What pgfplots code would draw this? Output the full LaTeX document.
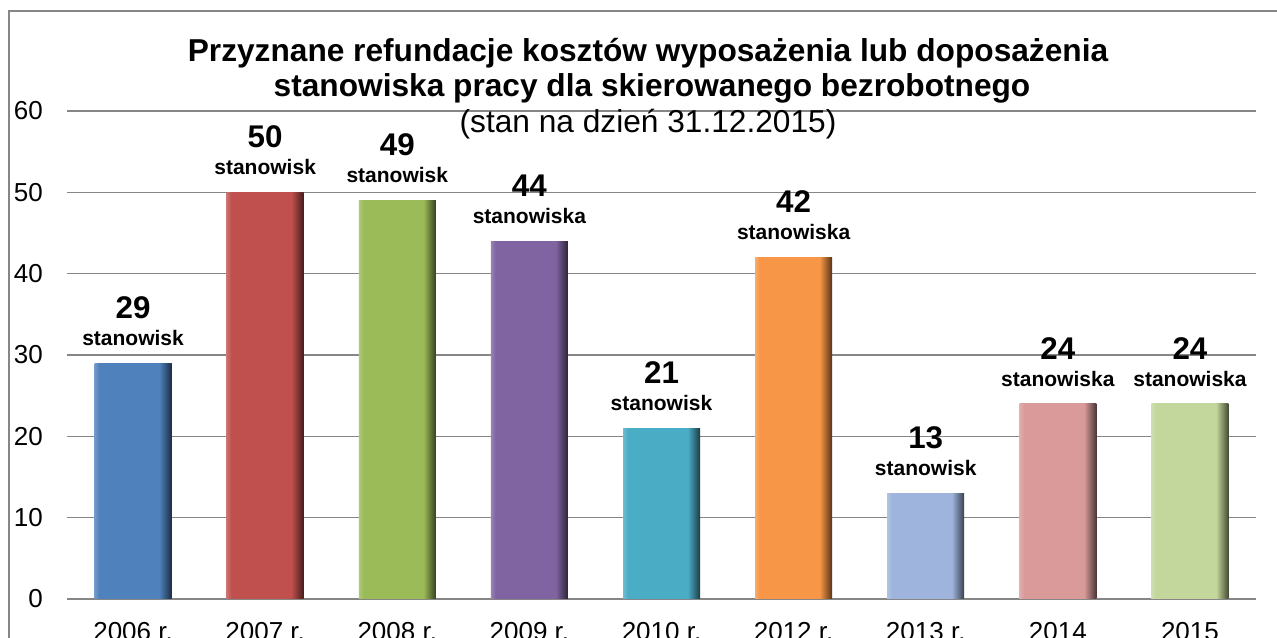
\documentclass[border=0pt]{standalone}
\usepackage{pgfplots}
\pgfplotsset{compat=1.18}
\usepackage{fontspec}
\setmainfont{Liberation Sans}
\definecolor{c1}{HTML}{4F81BD}
\definecolor{c2}{HTML}{C0504D}
\definecolor{c3}{HTML}{9BBB59}
\definecolor{c4}{HTML}{8064A2}
\definecolor{c5}{HTML}{4BACC6}
\definecolor{c6}{HTML}{F79646}
\definecolor{c7}{HTML}{9EB4DC}
\definecolor{c8}{HTML}{DA9A9A}
\definecolor{c9}{HTML}{C3D69B}
\definecolor{gridc}{HTML}{868686}
\newcommand\mkbevel[2]{\pgfdeclarehorizontalshading{#1}{100bp}{color(0bp)=(#2!80!white); color(25bp)=(#2!80!white); color(28bp)=(#2); color(67bp)=(#2); color(75bp)=(#2!35!black); color(100bp)=(#2!35!black)}}
\mkbevel{bev1}{c1}
\mkbevel{bev2}{c2}
\mkbevel{bev3}{c3}
\mkbevel{bev4}{c4}
\mkbevel{bev5}{c5}
\mkbevel{bev6}{c6}
\mkbevel{bev7}{c7}
\mkbevel{bev8}{c8}
\mkbevel{bev9}{c9}
\newcommand\barlab[2]{\vbox{\baselineskip=20.25pt\lineskiplimit=-100pt\halign{\hfil##\hfil\cr\fontsize{23.5pt}{23.5pt}\selectfont\bfseries #1\cr\fontsize{15.75pt}{15.75pt}\selectfont\bfseries #2\cr}}}
\begin{document}
\begin{tikzpicture}[x=0.75pt,y=0.75pt]
\useasboundingbox (0,0) rectangle (1277,638);
\clip (0,0) rectangle (1277,638);
\fill[white] (0,0) rectangle (1277,638);
\draw[gridc, line width=1.5pt] (9,-20) -- (9,627) -- (1300,627);
\begin{axis}[
  at={(50.25pt,29.25pt)}, anchor=south west,
  scale only axis, width=891.75pt, height=366pt,
  xmin=-0.5, xmax=8.5, ymin=0, ymax=60,
  ytick={0,10,20,30,40,50,60},
  xtick={0,1,2,3,4,5,6,7,8},
  xticklabels={2006 r.,2007 r.,2008 r.,2009 r.,2010 r.,2012 r.,2013 r.,2014,2015},
  ymajorgrids, grid style={draw=gridc, line width=1.2pt},
  axis line style={draw=none},
  major tick length=0pt,
  /pgf/number format/assume math mode=true,
  tick label style={font=\fontsize{19.5pt}{19.5pt}\selectfont},
  yticklabel style={anchor=east, inner sep=0pt, xshift=-18pt},
  xticklabel style={anchor=north, inner sep=0pt, yshift=-17.25pt},
  ybar, bar width=57.75pt, bar shift=0pt,
  every node near coord/.append style={anchor=south, inner sep=0pt, yshift=12.75pt, text=black},
  clip=false,
]
\addplot[draw=none, fill=c1, shading=bev1, nodes near coords={\barlab{29}{stanowisk}}] coordinates {(0,29)};
\addplot[draw=none, fill=c2, shading=bev2, nodes near coords={\barlab{50}{stanowisk}}] coordinates {(1,50)};
\addplot[draw=none, fill=c3, shading=bev3, nodes near coords={\barlab{49}{stanowisk}}] coordinates {(2,49)};
\addplot[draw=none, fill=c4, shading=bev4, nodes near coords={\barlab{44}{stanowiska}}] coordinates {(3,44)};
\addplot[draw=none, fill=c5, shading=bev5, nodes near coords={\barlab{21}{stanowisk}}] coordinates {(4,21)};
\addplot[draw=none, fill=c6, shading=bev6, nodes near coords={\barlab{42}{stanowiska}}] coordinates {(5,42)};
\addplot[draw=none, fill=c7, shading=bev7, nodes near coords={\barlab{13}{stanowisk}}] coordinates {(6,13)};
\addplot[draw=none, fill=c8, shading=bev8, nodes near coords={\barlab{24}{stanowiska}}] coordinates {(7,24)};
\addplot[draw=none, fill=c9, shading=bev9, nodes near coords={\barlab{24}{stanowiska}}] coordinates {(8,24)};
\end{axis}
\node[anchor=base, inner sep=0pt, font=\fontsize{23.75pt}{23.75pt}\selectfont\bfseries] at (648,576) {Przyznane refundacje kosztów wyposażenia lub doposażenia};
\node[anchor=base, inner sep=0pt, font=\fontsize{23.75pt}{23.75pt}\selectfont\bfseries] at (652,541) {stanowiska pracy dla skierowanego bezrobotnego};
\node[anchor=base, inner sep=0pt, font=\fontsize{23.75pt}{23.75pt}\selectfont] at (648,505) {(stan na dzień 31.12.2015)};
\end{tikzpicture}
\end{document}
